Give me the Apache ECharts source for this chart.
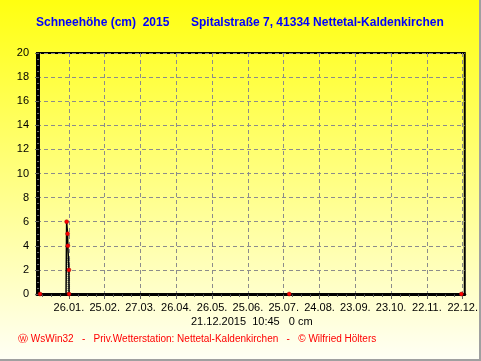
<!DOCTYPE html>
<html><head><meta charset="utf-8">
<script src="https://cdn.jsdelivr.net/npm/echarts@6/dist/echarts.min.js"></script>
<style>html,body{margin:0;padding:0;background:#fff}#c{width:481px;height:361px}</style>
</head><body><div id="c"></div>
<script>
const titleLeft = 'Schneehöhe (cm)  2015';
const titleRight = 'Spitalstraße 7, 41334 Nettetal-Kaldenkirchen';
const statusLine = '21.12.2015  10:45   0 cm';
const footerText = 'Ⓦ WsWin32   -   Priv.Wetterstation: Nettetal-Kaldenkirchen   -   © Wilfried Hölters';
const tickDays = [25, 55, 85, 115, 145, 175, 205, 235, 265, 295, 325, 355];
const tickLabels = ['26.01.', '25.02.', '27.03.', '26.04.', '26.05.', '25.06.', '25.07.', '24.08.', '23.09.', '23.10.', '22.11.', '22.12.'];
const snowDays = [0.8, 22.6, 23.1, 23.9, 24.1, 25.0, 25.1, 209.6, 353.9];
const snowCm   = [0, 0, 6, 5, 4, 2, 0, 0, 0];
const snowMarked = [1, 0, 1, 1, 1, 1, 1, 1, 1];
const hatchDays = [24.7, 24.7];
const hatchCm = [3, 0];

const X_MIN = -1.74, X_MAX = 356.7;
const minorDays = [];
for (let d = tickDays[0] - 30; d <= X_MAX; d += 7.5) {
  if (d >= X_MIN && !tickDays.includes(d)) minorDays.push(d);
}

const chart = echarts.init(document.getElementById('c'), null, {renderer: 'canvas'});
const gridLine = {show: true, lineStyle: {color: '#8c8c8c', type: [4, 3], width: 1}};
chart.setOption({
  animation: false,
  backgroundColor: {type: 'linear', x: 0, y: 0, x2: 0, y2: 1, colorStops: [
    {offset: 0, color: '#ffff10'}, {offset: 1, color: '#fffff6'}]},
  grid: {left: 37, right: 15, top: 53, bottom: 67, show: true, borderColor: '#000', borderWidth: 2, backgroundColor: 'transparent'},
  xAxis: [{
    type: 'value', min: X_MIN, max: X_MAX,
    axisLine: {show: true, lineStyle: {color: '#000', width: 3}},
    axisTick: {show: true, customValues: tickDays, length: 5, lineStyle: {color: '#606060'}},
    axisLabel: {customValues: tickDays, margin: 8, fontSize: 11, color: '#000', fontFamily: 'Liberation Sans, Arial',
      formatter: v => tickLabels[tickDays.indexOf(v)] || ''},
    splitLine: gridLine
  }, {
    type: 'value', min: X_MIN, max: X_MAX, position: 'bottom',
    axisLine: {show: false},
    axisTick: {show: true, customValues: minorDays, length: 3, lineStyle: {color: '#606060'}},
    axisLabel: {show: false},
    splitLine: {show: false}
  }],
  yAxis: {
    type: 'value', min: 0, max: 20, interval: 2,
    axisLine: {show: true, lineStyle: {color: '#000', width: 2}},
    axisTick: {show: true, length: 4, lineStyle: {color: '#606060'}},
    minorTick: {show: true, splitNumber: 4, length: 2, lineStyle: {color: '#707070'}},
    axisLabel: {margin: 8, fontSize: 11, color: '#000', fontFamily: 'Liberation Sans, Arial'},
    splitLine: gridLine
  },
  series: [{
    type: 'line', xAxisIndex: 0,
    data: hatchDays.map((d, i) => [d, hatchCm[i]]),
    symbol: 'none',
    lineStyle: {color: '#808080', width: 3, type: [1, 1]}
  }, {
    type: 'line', xAxisIndex: 0,
    data: snowDays.map((d, i) => ({value: [d, snowCm[i]], symbol: snowMarked[i] ? 'circle' : 'none'})),
    symbolSize: 4,
    lineStyle: {color: '#000', width: 1.5},
    itemStyle: {color: '#ff0000', borderColor: '#a00000', borderWidth: 0.5}
  }],
  graphic: [
    {type: 'text', left: 36, top: 17, style: {text: titleLeft, fill: '#0000ff', font: 'bold 12px "Liberation Sans", Arial'}},
    {type: 'text', left: 191, top: 17, style: {text: titleRight, fill: '#0000ff', font: 'bold 12px "Liberation Sans", Arial'}},
    {type: 'text', left: 191, top: 316, style: {text: statusLine, fill: '#000', font: '11px "Liberation Sans", Arial'}},
    {type: 'text', left: 18, top: 334, style: {text: footerText, fill: '#ff0000', font: '10px "Liberation Sans", Arial'}},
    {type: 'rect', shape: {x: 479, y: 0, width: 2, height: 361}, style: {fill: '#a0a0a0'}},
    {type: 'rect', shape: {x: 0, y: 359, width: 481, height: 2}, style: {fill: '#a0a0a0'}}
  ]
});
</script></body></html>
